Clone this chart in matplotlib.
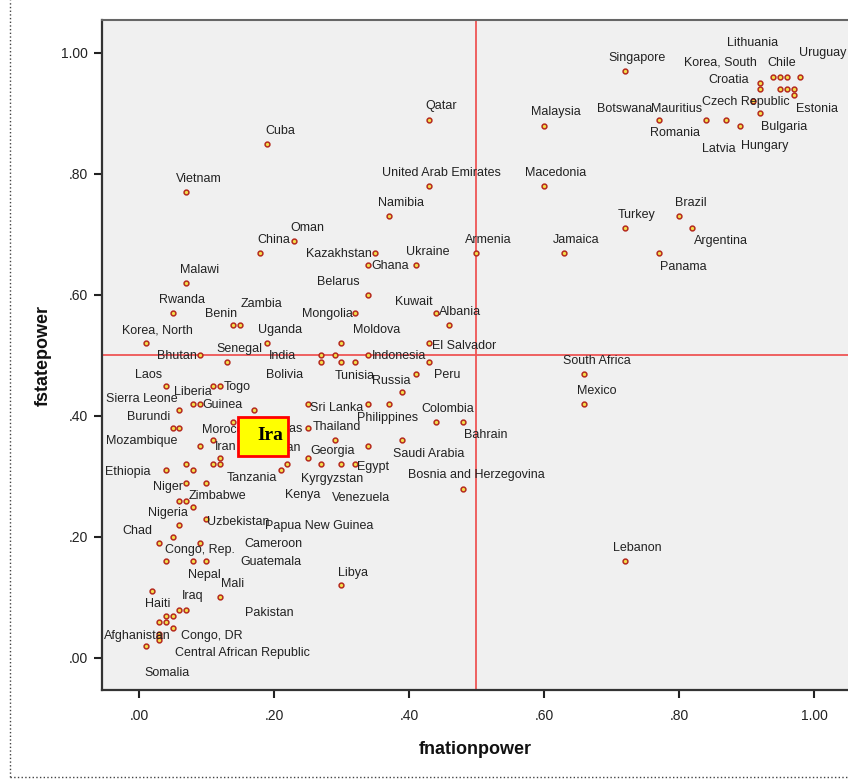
import matplotlib
matplotlib.use("Agg")
import matplotlib.pyplot as plt
from matplotlib.lines import Line2D
from matplotlib.patches import Rectangle
from matplotlib.ticker import FuncFormatter

plt.rcParams['font.family'] = ['Liberation Sans', 'DejaVu Sans']

# country names ('' = point drawn without a visible label)
country = [
    'Singapore', 'Lithuania', 'Korea, South', 'Chile', 'Uruguay', '', 'Croatia', '', '',
    'Estonia', 'Bulgaria', 'Czech Republic', 'Hungary', 'Malaysia', 'Botswana', 'Mauritius',
    'Romania', 'Latvia', 'Qatar', 'Cuba', 'Vietnam', 'United Arab Emirates', 'Macedonia',
    'Namibia', 'Turkey', 'Brazil', 'Argentina', 'Oman', 'China', 'Armenia', 'Jamaica',
    'Panama', 'Kazakhstan', 'Ghana', 'Ukraine', 'Malawi', 'Belarus', 'Rwanda', 'Mongolia',
    'Kuwait', 'Albania', 'Benin', 'Zambia', 'Korea, North', 'Uganda', 'Moldova',
    'El Salvador', 'Bhutan', 'Senegal', 'India', '', 'Indonesia', 'Bolivia', 'Tunisia', '',
    '', 'Peru', 'Laos', 'Togo', 'Liberia', 'Russia', '', 'Guinea', 'Sri Lanka',
    'Philippines', '', 'Sierra Leone', '', 'Burundi', '', 'Honduras', 'Thailand',
    'Colombia', 'Bahrain', 'Morocco', 'Mozambique', 'Iran', '', '', 'Azerbaijan', 'Georgia',
    'Saudi Arabia', '', 'Tanzania', 'Kenya', 'Kyrgyzstan', 'Venezuela', 'Egypt',
    'Bosnia and Herzegovina', 'Ethiopia', '', '', 'Niger', 'Papua New Guinea', 'Zimbabwe',
    '', '', 'Uzbekistan', 'Chad', 'Nigeria', '', 'Congo, Rep.', 'Guatemala', 'Nepal',
    'Cameroon', 'Mali', 'Libya', 'Iraq', '', 'Haiti', 'Pakistan', '', '', '', 'Congo, DR',
    'Afghanistan', '', 'Central African Republic', 'Somalia', 'Lebanon', 'South Africa',
    'Mexico',
]

fnationpower = [
    0.72, 0.95, 0.92, 0.94, 0.98, 0.96, 0.92, 0.95, 0.96,
    0.97, 0.97, 0.91, 0.92, 0.60, 0.77, 0.84,
    0.87, 0.89, 0.43, 0.19, 0.07, 0.43, 0.60,
    0.37, 0.72, 0.80, 0.82, 0.23, 0.18, 0.50, 0.63,
    0.77, 0.35, 0.34, 0.41, 0.07, 0.34, 0.05, 0.32,
    0.44, 0.46, 0.14, 0.15, 0.01, 0.19, 0.30,
    0.43, 0.09, 0.13, 0.27, 0.29, 0.34, 0.27, 0.30, 0.32,
    0.43, 0.41, 0.04, 0.12, 0.11, 0.39, 0.08, 0.09, 0.25,
    0.37, 0.34, 0.06, 0.17, 0.05, 0.06, 0.14, 0.25,
    0.44, 0.48, 0.11, 0.09, 0.12, 0.12, 0.11, 0.22, 0.29,
    0.39, 0.34, 0.21, 0.25, 0.27, 0.30, 0.32,
    0.48, 0.04, 0.07, 0.08, 0.07, 0.10, 0.07,
    0.06, 0.08, 0.10, 0.03, 0.06, 0.05, 0.09, 0.04, 0.08,
    0.10, 0.12, 0.30, 0.07, 0.06, 0.02, 0.05, 0.04, 0.03, 0.04, 0.05,
    0.03, 0.03, 0.03, 0.01, 0.72, 0.66,
    0.66,
]

fstatepower = [
    0.97, 0.96, 0.95, 0.96, 0.96, 0.96, 0.94, 0.94, 0.94,
    0.94, 0.93, 0.92, 0.90, 0.88, 0.89, 0.89,
    0.89, 0.88, 0.89, 0.85, 0.77, 0.78, 0.78,
    0.73, 0.71, 0.73, 0.71, 0.69, 0.67, 0.67, 0.67,
    0.67, 0.67, 0.65, 0.65, 0.62, 0.60, 0.57, 0.57,
    0.57, 0.55, 0.55, 0.55, 0.52, 0.52, 0.52,
    0.52, 0.50, 0.49, 0.50, 0.50, 0.50, 0.49, 0.49, 0.49,
    0.49, 0.47, 0.45, 0.45, 0.45, 0.44, 0.42, 0.42, 0.42,
    0.42, 0.42, 0.41, 0.41, 0.38, 0.38, 0.39, 0.38,
    0.39, 0.39, 0.36, 0.35, 0.33, 0.32, 0.32, 0.32, 0.36,
    0.36, 0.35, 0.31, 0.33, 0.32, 0.32, 0.32,
    0.28, 0.31, 0.32, 0.31, 0.29, 0.29, 0.26,
    0.26, 0.25, 0.23, 0.19, 0.22, 0.20, 0.19, 0.16, 0.16,
    0.16, 0.10, 0.12, 0.08, 0.08, 0.11, 0.07, 0.07, 0.06, 0.06, 0.05,
    0.04, 0.035, 0.03, 0.02, 0.16, 0.47,
    0.42,
]

# where each label sits relative to its point (pixels, +y is down)
label_offset = {
    'Singapore': (12, -13), 'Lithuania': (-28, -34), 'Korea, South': (-40, -21),
    'Chile': (8, -14), 'Uruguay': (22, -24), 'Croatia': (-31, -9), 'Estonia': (23, 20),
    'Bulgaria': (-10, 32), 'Czech Republic': (-7, 1), 'Hungary': (5, 33),
    'Malaysia': (12, -14), 'Botswana': (-34, -11), 'Mauritius': (-29, -11),
    'Romania': (-51, 13), 'Latvia': (-21, 23), 'Qatar': (12, -14), 'Cuba': (13, -13),
    'Vietnam': (13, -13), 'United Arab Emirates': (12, -13), 'Macedonia': (12, -13),
    'Namibia': (12, -13), 'Turkey': (12, -13), 'Brazil': (12, -13), 'Argentina': (28, 13),
    'Oman': (13, -13), 'China': (13, -13), 'Armenia': (12, -13), 'Jamaica': (12, -13),
    'Panama': (25, 14), 'Kazakhstan': (-36, 1), 'Ghana': (22, 1), 'Ukraine': (12, -13),
    'Malawi': (13, -13), 'Belarus': (-30, -13), 'Rwanda': (9, -13), 'Mongolia': (-28, 1),
    'Kuwait': (-22, -11), 'Albania': (11, -13), 'Benin': (-12, -11), 'Zambia': (21, -21),
    'Korea, North': (12, -13), 'Uganda': (13, -13), 'Moldova': (35, -13),
    'El Salvador': (35, 3), 'Bhutan': (-23, 1), 'Senegal': (13, -13), 'India': (-39, 1),
    'Indonesia': (31, 1), 'Bolivia': (-37, 13), 'Tunisia': (13, 14), 'Peru': (31, 1),
    'Laos': (-17, -11), 'Togo': (17, 1), 'Liberia': (-20, 6), 'Russia': (-11, -11),
    'Guinea': (23, 1), 'Sri Lanka': (29, 4), 'Philippines': (-1, 14),
    'Sierra Leone': (-38, -11), 'Burundi': (-24, -11), 'Honduras': (42, 7),
    'Thailand': (29, -1), 'Colombia': (12, -13), 'Bahrain': (23, 13), 'Morocco': (13, -10),
    'Mozambique': (-58, -5), 'Iran': (6, -11), 'Azerbaijan': (-16, -16), 'Georgia': (-2, 11),
    'Saudi Arabia': (26, 14), 'Tanzania': (-29, 8), 'Kenya': (-5, 37), 'Kyrgyzstan': (11, 15),
    'Venezuela': (20, 34), 'Egypt': (18, 3), 'Bosnia and Herzegovina': (13, -14),
    'Ethiopia': (-38, 2), 'Niger': (-18, 4), 'Papua New Guinea': (113, 43),
    'Zimbabwe': (31, -5), 'Uzbekistan': (32, 3), 'Chad': (-22, -12), 'Nigeria': (-12, -12),
    'Congo, Rep.': (0, 7), 'Guatemala': (105, 1), 'Nepal': (11, 14), 'Cameroon': (67, -17),
    'Mali': (13, -13), 'Libya': (12, -12), 'Iraq': (6, -14), 'Haiti': (5, 13),
    'Pakistan': (97, -3), 'Congo, DR': (39, 8), 'Afghanistan': (-22, 2),
    'Central African Republic': (83, 13), 'Somalia': (21, 27), 'Lebanon': (12, -13),
    'South Africa': (12, -13), 'Mexico': (12, -13),
}

fig = plt.figure(figsize=(8.48, 7.8), dpi=100, facecolor='white')
ax = fig.add_axes([102 / 848, 90 / 780, 746 / 848, 670 / 780])
ax.set_facecolor('#f0f0f0')
ax.set_xlim(-0.0548, 1.0504)
ax.set_ylim(-0.0529, 1.0545)

# reference lines at .50
ax.axvline(0.5, color='#ee5555', lw=1.3, zorder=1)
ax.axhline(0.5, color='#ee5555', lw=1.3, zorder=1)

ax.scatter(fnationpower, fstatepower, s=12, facecolor='#f3df4a',
           edgecolor='#b52a1e', linewidth=1.1, zorder=3)

for name, x, y in zip(country, fnationpower, fstatepower):
    if not name:
        continue
    dx, dy = label_offset[name]
    ax.annotate(name, (x, y), xytext=(dx, -dy), textcoords='offset pixels',
                ha='center', va='center', fontsize=9, color='#222222', zorder=4)

# highlighted box over the crowded area
ax.add_patch(Rectangle((0.1467, 0.334), 0.074, 0.064, facecolor='#ffff00',
                       edgecolor='#ff0000', lw=2, zorder=6))
ax.text(0.194, 0.368, 'Ira', family='Liberation Serif', fontweight='bold',
        fontsize=14, ha='center', va='center', zorder=7)

fmt = FuncFormatter(lambda v, p: ('%.2f' % v).replace('0.', '.', 1) if v < 1 else '%.2f' % v)
ax.set_xticks([0, 0.2, 0.4, 0.6, 0.8, 1.0])
ax.set_yticks([0, 0.2, 0.4, 0.6, 0.8, 1.0])
ax.xaxis.set_major_formatter(fmt)
ax.yaxis.set_major_formatter(fmt)
ax.tick_params(axis='x', length=6, width=1.5, pad=8, labelsize=10, colors='#222222')
ax.tick_params(axis='y', length=6, width=1.5, pad=4, labelsize=10, colors='#222222')

for s in ['left', 'bottom']:
    ax.spines[s].set_color('#333333')
    ax.spines[s].set_linewidth(1.6)
ax.spines['top'].set_color('#666666')
ax.spines['top'].set_linewidth(1.5)
ax.spines['right'].set_visible(False)

ax.set_xlabel('fnationpower', fontsize=13, fontweight='bold', labelpad=13, color='#111111')
ax.set_ylabel('fstatepower', fontsize=13, fontweight='bold', labelpad=7, color='#111111')

# outer frame of the output window
fig.add_artist(Line2D([10 / 848, 10 / 848], [3 / 780, 1], color='#444444', lw=1, ls=':'))
fig.add_artist(Line2D([10 / 848, 1], [3 / 780, 3 / 780], color='#444444', lw=1, ls=':'))

fig.savefig('out.png', dpi=100, facecolor='white')
